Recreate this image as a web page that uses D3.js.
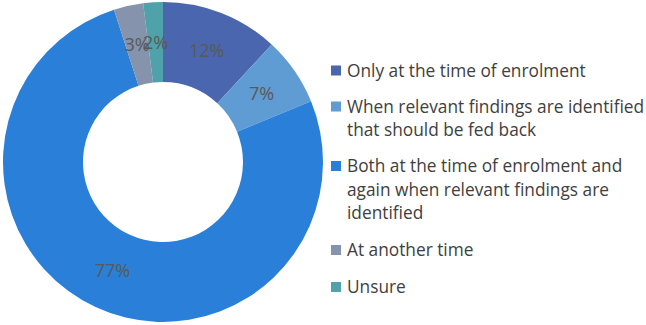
<!DOCTYPE html>
<html>
<head>
<meta charset="utf-8">
<script src="https://cdn.jsdelivr.net/npm/d3@7"></script>
<style>
  body { margin: 0; background: #fff; }
  svg text { font-family: "Open Sans", "Lato", sans-serif; }
</style>
</head>
<body>
<div id="chart"></div>
<script>
// data
const categories = [
  "Only at the time of enrolment",
  "When relevant findings are identified|that should be fed back",
  "Both at the time of enrolment and|again when relevant findings are|identified",
  "At another time",
  "Unsure"
];
const values = [12, 7, 77, 3, 2];
const colors = ["#4a66ae", "#5f9cd4", "#2a80d8", "#8593ad", "#4fa2aa"];

const width = 646, height = 325;
const cx = 163, cy = 162;
const outerR = 160, innerR = 80;

const svg = d3.select("#chart").append("svg")
    .attr("width", width)
    .attr("height", height);

const pie = d3.pie().sort(null).value(d => d.v);
const arcs = pie(values.map((v, i) => ({ v: v, i: i })));

const arc = d3.arc().innerRadius(innerR).outerRadius(outerR);
const labelArc = d3.arc().innerRadius((innerR + outerR) / 2).outerRadius((innerR + outerR) / 2);

const g = svg.append("g").attr("transform", `translate(${cx},${cy})`);

g.selectAll("path.slice")
    .data(arcs)
    .enter().append("path")
    .attr("class", "slice")
    .attr("d", arc)
    .attr("fill", d => colors[d.data.i]);

g.selectAll("text.lbl")
    .data(arcs)
    .enter().append("text")
    .attr("class", "lbl")
    .attr("transform", d => `translate(${labelArc.centroid(d)})`)
    .attr("text-anchor", "middle")
    .attr("dy", "0.35em")
    .style("font-size", "18px")
    .style("fill", "#595959")
    .text(d => d.data.v + "%");

// legend
const legendX = 331;
const lineH = 23.5;
const rowStarts = [70.5, 106.5, 166, 250, 287];

const leg = svg.append("g");
categories.forEach((c, i) => {
  const y0 = rowStarts[i];
  leg.append("rect")
      .attr("x", legendX)
      .attr("y", y0 - 5)
      .attr("width", 10)
      .attr("height", 10)
      .attr("fill", colors[i]);
  const t = leg.append("text")
      .attr("x", legendX + 16)
      .attr("y", y0)
      .style("font-size", "17.3px")
      .style("fill", "#404040");
  c.split("|").forEach((line, j) => {
    t.append("tspan")
        .attr("x", legendX + 16)
        .attr("y", y0 + j * lineH)
        .attr("dy", "0.35em")
        .text(line);
  });
});
</script>
</body>
</html>
